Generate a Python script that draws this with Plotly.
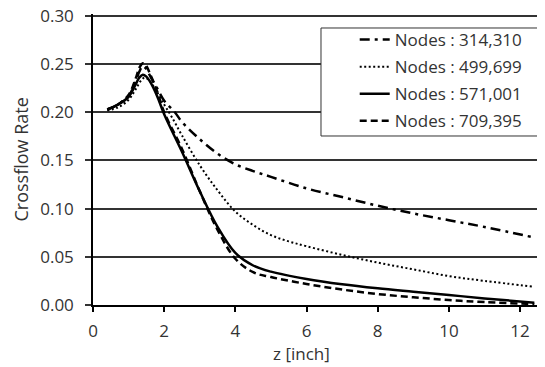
import plotly.graph_objects as go

names = ["Nodes : 314,310", "Nodes : 499,699", "Nodes : 571,001", "Nodes : 709,395"]

z_dashdot = [0.4, 0.7, 1.0, 1.2, 1.3, 1.4, 1.5, 1.6, 1.8, 2.0, 2.3, 2.5, 3.0, 3.5, 4.0, 4.5, 5.0, 6.0, 7.0, 8.0, 9.0, 10.0, 11.0, 12.4]
v_dashdot = [0.203, 0.208, 0.217, 0.232, 0.242, 0.248, 0.245, 0.238, 0.225, 0.212, 0.200, 0.190, 0.172, 0.157, 0.146, 0.139, 0.133, 0.121, 0.112, 0.103, 0.095, 0.088, 0.081, 0.070]

z_dotted = [0.4, 0.7, 1.0, 1.2, 1.35, 1.45, 1.55, 1.7, 2.0, 2.2, 2.5, 3.0, 3.5, 4.0, 4.5, 5.0, 5.5, 6.0, 7.0, 8.0, 9.0, 10.0, 11.0, 12.4]
v_dotted = [0.202, 0.205, 0.213, 0.224, 0.233, 0.236, 0.234, 0.227, 0.208, 0.196, 0.176, 0.145, 0.119, 0.097, 0.083, 0.0725, 0.066, 0.061, 0.052, 0.044, 0.037, 0.030, 0.025, 0.019]

z_solid = [0.4, 0.7, 1.0, 1.2, 1.3, 1.4, 1.5, 1.6, 1.8, 2.0, 2.5, 3.0, 3.5, 4.0, 4.5, 5.0, 6.0, 7.0, 8.0, 9.0, 10.0, 11.0, 12.4]
v_solid = [0.203, 0.208, 0.216, 0.229, 0.236, 0.239, 0.237, 0.232, 0.217, 0.198, 0.159, 0.118, 0.081, 0.054, 0.041, 0.0346, 0.027, 0.0215, 0.0173, 0.0138, 0.0104, 0.0068, 0.0024]

z_dashed = [0.4, 0.7, 1.0, 1.2, 1.3, 1.4, 1.5, 1.6, 1.8, 2.0, 2.5, 3.0, 3.5, 4.0, 4.5, 5.0, 6.0, 7.0, 8.0, 9.0, 10.0, 11.0, 12.4]
v_dashed = [0.203, 0.208, 0.218, 0.235, 0.246, 0.251, 0.248, 0.240, 0.222, 0.200, 0.162, 0.118, 0.078, 0.048, 0.034, 0.029, 0.0218, 0.016, 0.0114, 0.008, 0.0052, 0.003, 0.001]

x_ticks = [0, 2, 4, 6, 8, 10, 12]
y_ticks = [0.00, 0.05, 0.10, 0.15, 0.20, 0.25, 0.30]
x_title = "z [inch]"
y_title = "Crossflow Rate"

series = [
    (z_dashdot, v_dashdot, "10px,5px,3px,5px", 2.5),
    (z_dotted, v_dotted, "2px,2.5px", 2),
    (z_solid, v_solid, "solid", 2.5),
    (z_dashed, v_dashed, "7px,4px", 2.5),
]

fig = go.Figure()
for i, (zz, vv, dash, w) in enumerate(series):
    fig.add_trace(go.Scatter(
        x=zz, y=vv, mode="lines", name=names[i], legendgroup=str(i),
        line=dict(color="black", width=w, dash=dash, shape="spline", smoothing=1.0),
    ))

font = "Open Sans, Noto Sans, sans-serif"
fig.update_layout(
    width=537, height=359,
    margin=dict(l=85, r=0, t=6, b=62),
    plot_bgcolor="white", paper_bgcolor="white",
    font=dict(family=font, size=17, color="#333333"),
    showlegend=True,
    legend=dict(
        x=0.579, y=0.9725, xanchor="left", yanchor="top",
        borderwidth=0, bgcolor="rgba(0,0,0,0)",
        font=dict(size=17, color="#333333"),
        tracegroupgap=2,
    ),
    shapes=[dict(
        type="rect", xref="paper", yref="paper",
        x0=0.5044, x1=0.9912, y0=0.5808, y1=0.9519,
        line=dict(color="#333333", width=1), fillcolor="white", layer="above",
    )],
    annotations=[
        dict(text=x_title, xref="paper", yref="paper", x=0.462, y=-0.165,
             xanchor="center", yanchor="middle", showarrow=False, font=dict(size=17)),
        dict(text=y_title, xref="paper", yref="paper", x=-0.1615, y=0.5,
             xanchor="center", yanchor="middle", showarrow=False, textangle=-90,
             font=dict(size=18)),
    ],
    xaxis=dict(
        range=[0, 12.7], tickvals=x_ticks, ticktext=[str(t) for t in x_ticks],
        automargin=False, ticklabelstandoff=5, ticklabeloverflow="allow",
        showgrid=False, zeroline=False, showline=True, linecolor="black", linewidth=1.5,
        ticks="outside", ticklen=5, tickcolor="black", tickwidth=1.5,
    ),
    yaxis=dict(
        range=[0, 0.302], tickvals=y_ticks, ticktext=["%.2f" % t for t in y_ticks],
        automargin=False, ticklabelstandoff=8, ticklabeloverflow="allow",
        showgrid=True, gridcolor="#333333", gridwidth=1.5,
        zeroline=False, showline=True, linecolor="black", linewidth=1.5,
        ticks="outside", ticklen=6, tickcolor="#333333", tickwidth=1.5,
    ),
)

fig.write_html("out.html")
